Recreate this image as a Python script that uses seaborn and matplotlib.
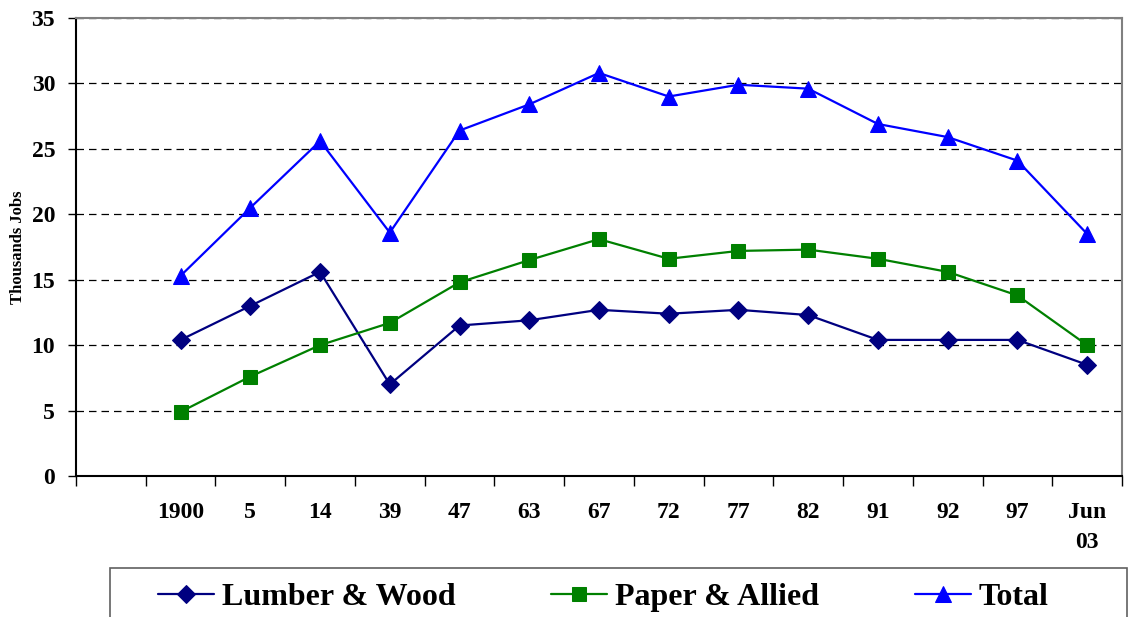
import numpy as np
import matplotlib
matplotlib.use("Agg")
import matplotlib.pyplot as plt
from matplotlib.patches import Rectangle
import seaborn as sns

sns.set_theme(style="white")
plt.rcParams["font.family"] = ["Liberation Serif", "DejaVu Serif"]
plt.rcParams["font.weight"] = "bold"
plt.rcParams["text.color"] = "black"
plt.rcParams["axes.labelcolor"] = "black"
plt.rcParams["xtick.color"] = "black"
plt.rcParams["ytick.color"] = "black"

# ── Data ─────────────────────────────────────────────────────────────────────
categories = ["", "1900", "5", "14", "39", "47", "63", "67", "72", "77", "82",
              "91", "92", "97", "Jun\n03"]
lumber = [10.4, 13.0, 15.6, 7.0, 11.5, 11.9, 12.7, 12.4, 12.7, 12.3, 10.4, 10.4, 10.4, 8.5]
paper = [4.9, 7.6, 10.0, 11.7, 14.8, 16.5, 18.1, 16.6, 17.2, 17.3, 16.6, 15.6, 13.8, 10.0]
total = [15.3, 20.5, 25.6, 18.6, 26.4, 28.4, 30.8, 29.0, 29.9, 29.6, 26.9, 25.9, 24.1, 18.5]

series = [("Lumber & Wood", lumber, "#000080", "D", 9),
          ("Paper & Allied", paper, "#008000", "s", 10),
          ("Total", total, "#0000FF", "^", 11)]

# data starts at the second category slot (first slot is empty)
xpos = np.arange(1, len(categories))

fig = plt.figure(figsize=(11.34, 6.17), dpi=100)
ax = fig.add_axes([76 / 1134, 1 - 476 / 617, (1122 - 76) / 1134, (476 - 18) / 617])

for name, vals, col, mk, ms in series:
    sns.lineplot(x=xpos, y=vals, ax=ax, color=col, marker=mk, markersize=ms,
                 markeredgecolor=col, linewidth=1.6, label=name, legend=False)

ax.set_xlim(-0.5, len(categories) - 0.5)
ax.set_ylim(0, 35)
ax.set_yticks(np.arange(0, 36, 5))
ax.tick_params(axis="y", labelsize=17, length=6, width=1, pad=9, direction="out", left=True)

# tick marks at category boundaries, labels at category centres
ax.set_xticks(np.arange(-0.5, len(categories), 1.0))
ax.set_xticklabels([])
ax.set_xticks(np.arange(len(categories)), minor=True)
ax.set_xticklabels(categories, minor=True, fontsize=17, fontweight="bold", linespacing=1.55)
ax.tick_params(axis="x", which="major", length=7, width=1, direction="out", bottom=True)
ax.tick_params(axis="x", which="minor", length=0, pad=19)
for lab in ax.get_yticklabels():
    lab.set_fontweight("bold")

ax.yaxis.grid(True, linestyle=(0, (6, 4)), color="black", linewidth=0.9)
ax.xaxis.grid(False)
ax.set_axisbelow(True)

ax.spines["left"].set_color("black")
ax.spines["bottom"].set_color("black")
ax.spines["top"].set_color("#808080")
ax.spines["right"].set_color("#808080")
for s in ax.spines.values():
    s.set_linewidth(1.5)

ax.set_ylabel("Thousands Jobs", fontsize=12, fontweight="bold", labelpad=4)

# legend box runs off the bottom of the figure, as in the original
fig.patches.append(Rectangle((110 / 1134, -0.05), (1127 - 110) / 1134, 0.05 + 1 - 568 / 617,
                             transform=fig.transFigure, facecolor="none",
                             edgecolor="#606060", linewidth=1.2))
handles, labels = ax.get_legend_handles_labels()
fig.legend(handles, labels, loc="upper left", ncol=3,
           bbox_to_anchor=(158 / 1134, 1 - 583 / 617),
           prop={"size": 23, "weight": "bold"}, frameon=False,
           handlelength=1.75, handletextpad=0.25, columnspacing=3.0,
           borderpad=0, borderaxespad=0)

plt.savefig("out.png", dpi=100)
plt.close()
